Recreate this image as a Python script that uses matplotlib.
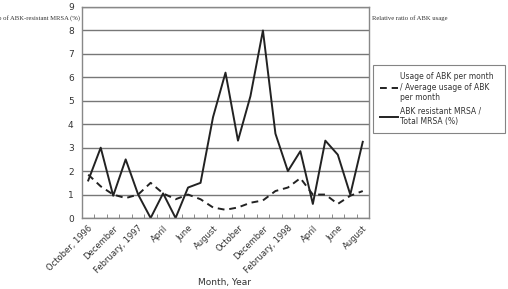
import matplotlib
matplotlib.use("Agg")
import matplotlib.pyplot as plt
import numpy as np

# monthly categories, October 1996 .. August 1998
months = ["October, 1996", "November", "December", "January", "February, 1997", "March",
          "April", "May", "June", "July", "August", "September", "October", "November",
          "December", "January", "February, 1998", "March", "April", "May", "June", "July",
          "August"]
mrsa_ratio = [1.6, 3.0, 0.95, 2.5, 1.0, 0.0, 1.05, 0.0, 1.3, 1.5, 4.3, 6.2, 3.3, 5.2,
              8.0, 3.6, 2.0, 2.85, 0.6, 3.3, 2.7, 1.0, 3.25]
usage_ratio = [1.85, 1.35, 1.0, 0.85, 1.0, 1.5, 1.05, 0.8, 1.0, 0.8, 0.45, 0.35, 0.45,
               0.65, 0.75, 1.15, 1.3, 1.7, 1.0, 1.0, 0.6, 0.95, 1.15]
yticks = list(range(10))

fig = plt.figure(figsize=(5.08, 2.89), dpi=100)
ax = fig.add_axes([82 / 508, 1 - 218 / 289, 287 / 508, 211 / 289])

x = np.arange(len(months))
ax.plot(x, usage_ratio, color="#222222", lw=1.4, ls=(0, (3.5, 2.5)),
        label="Usage of ABK per month\n/ Average usage of ABK\nper month")
ax.plot(x, mrsa_ratio, color="#222222", lw=1.4,
        label="ABK resistant MRSA /\nTotal MRSA (%)")

ax.set_xlim(-0.5, len(months) - 0.5)
ax.set_ylim(0, 9)
ax.set_yticks(yticks)
ax.yaxis.grid(True, color="#777777", lw=1.0)
ax.set_axisbelow(True)
ax.tick_params(axis="y", length=0, labelsize=6.5, colors="#333333", pad=6)

ax.set_xticks(np.arange(-0.5, len(months)), minor=True)
ax.set_xticks(x[::2])
ax.set_xticklabels(months[::2], rotation=45, ha="right", rotation_mode="anchor",
                   fontsize=6, color="#333333")
ax.tick_params(axis="x", which="major", length=0, pad=4)
ax.tick_params(axis="x", which="minor", direction="in", length=3, color="#777777")
for s in ax.spines.values():
    s.set_color("#888888")
    s.set_linewidth(1.0)

fig.text(80 / 508, 1 - 18 / 289, "Ratio of ABK-resistant MRSA (%)", ha="right", va="center",
         fontsize=4.8, family="Liberation Serif", color="#333333")
fig.text(372 / 508, 1 - 18 / 289, "Relative ratio of ABK usage", ha="left", va="center",
         fontsize=4.8, family="Liberation Serif", color="#333333")
fig.text(225 / 508, 1 - 282 / 289, "Month, Year", ha="center", va="center",
         fontsize=6.5, color="#333333")

leg = ax.legend(loc="center", bbox_to_anchor=(373 / 508, 1 - 135 / 289, 132 / 508, 72 / 289),
                bbox_transform=fig.transFigure, mode="expand", fontsize=5.5,
                frameon=True, fancybox=False, edgecolor="#666666", handlelength=2.4,
                handletextpad=0.3, borderpad=0.9, labelspacing=0.6, borderaxespad=0)
leg.get_frame().set_linewidth(0.8)
for t in leg.get_texts():
    t.set_color("#333333")

fig.savefig("out.png", dpi=100)
